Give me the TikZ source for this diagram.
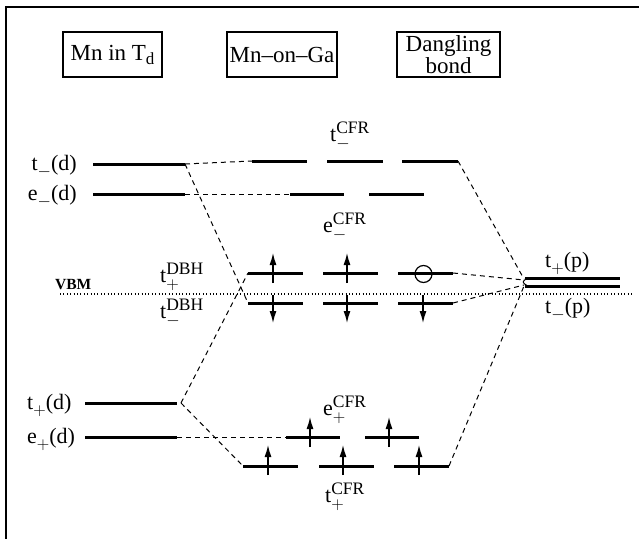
\documentclass[tikz,border=0pt]{standalone}
\usepackage{fontspec}
\setmainfont{Liberation Serif}
\usetikzlibrary{arrows.meta}
\newcommand{\smallscr}{\fontsize{16}{16}\selectfont}
\newcommand{\supscr}{\fontsize{17.5}{17.5}\selectfont}
\newcommand{\subm}{\raisebox{-6pt}{\smallscr$-$}}
\newcommand{\subp}{\raisebox{-6pt}{\smallscr$+$}}
% main letter, superscript, subscript
\newcommand{\lvlab}[3]{#1\makebox[0pt][l]{\raisebox{8pt}{\supscr #2}}\raisebox{-7pt}{\smallscr$#3$}\phantom{\supscr #2}\hspace{-0.8em}}
\begin{document}
\begin{tikzpicture}[x=1pt,y=-1pt,
  lvl/.style={line width=3pt},
  conn/.style={line width=1pt,dash pattern=on 5pt off 4pt},
  spinup/.style={line width=1.3pt,-{Latex[length=12pt,width=7pt]}},
  boxlbl/.style={draw,line width=1.3pt,font=\fontsize{23}{18}\selectfont,inner sep=0pt,align=center,minimum height=45pt},
  lbl/.style={font=\fontsize{22}{22}\selectfont,inner sep=0pt},
  vbm/.style={line width=1.1pt,dash pattern=on 1pt off 2.4pt},
]
\useasboundingbox (0,0) rectangle (639,538);
\fill[white] (0,0) rectangle (639,538);
% frame (only top and left visible)
\draw[line width=2pt] (6,540) -- (6,7) -- (641,7);

% header boxes
\node[boxlbl,minimum width=99pt] (bTd) at (112.5,54.5) {Mn in T\raisebox{-4pt}{\fontsize{17}{17}\selectfont d}};
\node[boxlbl,minimum width=110pt] (bGa) at (282,54.5) {Mn\textendash on\textendash Ga};
\node[boxlbl,minimum width=103pt] (bDB) at (448.5,54.5) {Dangling\\bond};

% ---- Mn in Td levels
\coordinate (tdmL) at (93,164);  \coordinate (tdmR) at (185,164);
\coordinate (edmL) at (93,194);  \coordinate (edmR) at (185,194);
\coordinate (tdpL) at (85,403);  \coordinate (tdpR) at (177,403);
\coordinate (edpL) at (85,437);  \coordinate (edpR) at (177,437);
\coordinate (tdpJ) at (181,403);
\draw[lvl] (tdmL) -- (tdmR);
\draw[lvl] (edmL) -- (edmR);
\draw[lvl] (tdpL) -- (tdpR);
\draw[lvl] (edpL) -- (edpR);
\node[lbl,anchor=base east] (Ltdm) at (77,170) {t\subm(d)};
\node[lbl,anchor=base east] (Ledm) at (77,200) {e\subm(d)};
\node[lbl,anchor=base west] (Ltdp) at (27,409) {t\subp(d)};
\node[lbl,anchor=base west] (Ledp) at (27,443) {e\subp(d)};

% ---- Mn-on-Ga levels
% t_-^CFR
\coordinate (tcm1L) at (252,161); \coordinate (tcm1R) at (307,161);
\coordinate (tcm2L) at (327,161); \coordinate (tcm2R) at (383,161);
\coordinate (tcm3L) at (402,161); \coordinate (tcm3R) at (458,161);
\draw[lvl] (tcm1L) -- (tcm1R); \draw[lvl] (tcm2L) -- (tcm2R); \draw[lvl] (tcm3L) -- (tcm3R);
% e_-^CFR
\coordinate (ecm1L) at (290,194); \coordinate (ecm1R) at (344,194);
\coordinate (ecm2L) at (369,194); \coordinate (ecm2R) at (424,194);
\draw[lvl] (ecm1L) -- (ecm1R); \draw[lvl] (ecm2L) -- (ecm2R);
% t_+^DBH
\coordinate (tbp1L) at (248,273); \coordinate (tbp1R) at (303,273);
\coordinate (tbp2L) at (323,273); \coordinate (tbp2R) at (378,273);
\coordinate (tbp3L) at (398,273); \coordinate (tbp3R) at (453,273);
\draw[lvl] (tbp1L) -- (tbp1R); \draw[lvl] (tbp2L) -- (tbp2R); \draw[lvl] (tbp3L) -- (tbp3R);
% t_-^DBH
\coordinate (tbm1L) at (248,303); \coordinate (tbm1R) at (303,303);
\coordinate (tbm2L) at (323,303); \coordinate (tbm2R) at (378,303);
\coordinate (tbm3L) at (398,303); \coordinate (tbm3R) at (453,303);
\draw[lvl] (tbm1L) -- (tbm1R); \draw[lvl] (tbm2L) -- (tbm2R); \draw[lvl] (tbm3L) -- (tbm3R);
% e_+^CFR
\coordinate (ecp1L) at (286,437); \coordinate (ecp1R) at (340,437);
\coordinate (ecp2L) at (365,437); \coordinate (ecp2R) at (419,437);
\draw[lvl] (ecp1L) -- (ecp1R); \draw[lvl] (ecp2L) -- (ecp2R);
% t_+^CFR
\coordinate (tcp1L) at (243,466); \coordinate (tcp1R) at (298,466);
\coordinate (tcp2L) at (319,466); \coordinate (tcp2R) at (374,466);
\coordinate (tcp3L) at (394,466); \coordinate (tcp3R) at (449,466);
\draw[lvl] (tcp1L) -- (tcp1R); \draw[lvl] (tcp2L) -- (tcp2R); \draw[lvl] (tcp3L) -- (tcp3R);

% labels of Mn-on-Ga levels
\node[lbl,anchor=base west] (Ltcm) at (330,141) {\lvlab{t}{CFR}{-}};
\node[lbl,anchor=base west] (Lecm) at (323,232) {\lvlab{e}{CFR}{-}};
\node[lbl,anchor=base west] (Ltbp) at (160,282) {\lvlab{t}{DBH}{+}};
\node[lbl,anchor=base west] (Ltbm) at (160,318) {\lvlab{t}{DBH}{-}};
\node[lbl,anchor=base west] (Lecp) at (323,415) {\lvlab{e}{CFR}{+}};
\node[lbl,anchor=base west] (Ltcp) at (325,502) {\lvlab{t}{CFR}{+}};

% spins
\draw[spinup] (273,283) -- (273,253);
\draw[spinup] (347,283) -- (347,253);
\node[circle,draw,line width=1.2pt,minimum size=17pt,inner sep=0pt] (hole) at (423.5,274) {};
\draw[spinup] (273,295) -- (273,323);
\draw[spinup] (347,295) -- (347,323);
\draw[spinup] (423,295) -- (423,323);
\draw[spinup] (310,447) -- (310,417);
\draw[spinup] (389,447) -- (389,417);
\draw[spinup] (268,475) -- (268,445);
\draw[spinup] (343,475) -- (343,445);
\draw[spinup] (419,475) -- (419,445);

% ---- Dangling bond levels
\coordinate (tpp) at (525,278); \coordinate (tppR) at (620,278);
\coordinate (tpm) at (525,286); \coordinate (tpmR) at (620,286);
\draw[lvl] (tpp) -- (tppR);
\draw[lvl] (tpm) -- (tpmR);
\draw[line width=1pt] (527,278.5) .. controls (522,281) and (522,283) .. (527,285.5);
\node[lbl,anchor=base west] (Ltpp) at (545,267) {t\subp(p)};
\node[lbl,anchor=base west] (Ltpm) at (545,313) {t\subm(p)};

% VBM
\coordinate (vbmL) at (60,294); \coordinate (vbmR) at (634,294);
\draw[vbm] (vbmL) -- (vbmR);
\node[font=\bfseries\fontsize{15.5}{17}\selectfont,inner sep=0pt,anchor=base west] (Lvbm) at (55,289) {VBM};

% ---- connectors
\draw[conn] (tdmR) -- (tcm1L);
\draw[conn] (edmR) -- (ecm1L);
\draw[conn] (tdmR) -- (tbm1L);
\draw[conn] (tdpJ) -- (tbp1L);
\draw[conn] (tdpJ) -- (tcp1L);
\draw[conn] (edpR) -- (ecp1L);
\draw[conn] (tcm3R) -- (524,279);
\draw[conn] (tbp3R) -- (524,280);
\draw[conn] (tbm3R) -- (524,285);
\draw[conn] (tcp3R) -- (524,286);
\end{tikzpicture}
\end{document}
